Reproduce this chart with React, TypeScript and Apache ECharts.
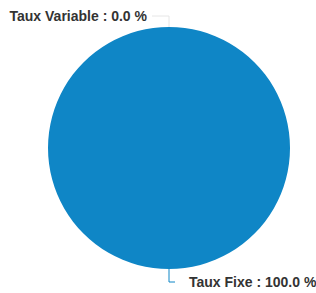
import React, { useEffect, useRef } from "react";
import * as echarts from "echarts";

const categories = ["Taux Fixe", "Taux Variable"];
const values = [100, 0];
const colors = ["#0f86c6", "#e6e6e6"];

export default function App() {
  const ref = useRef<HTMLDivElement>(null);
  useEffect(() => {
    if (!ref.current) return;
    const chart = echarts.init(ref.current, undefined, { renderer: "svg" });
    const total = values.reduce((a, b) => a + b, 0);
    chart.setOption({
      animation: false,
      series: [
        {
          type: "pie",
          center: [169, 148],
          radius: [0, 121],
          startAngle: 90,
          clockwise: false,
          avoidLabelOverlap: false,
          minShowLabelAngle: 0,
          data: categories.map((c, i) => ({
            name: c,
            value: values[i],
            itemStyle: { color: colors[i] },
            label: { distanceToLabelLine: i === 0 ? 14 : 5 },
            labelLine: { length: i === 0 ? 13 : 11, length2: i === 0 ? 6 : 17 },
          })),
          label: {
            show: true,
            color: "#333",
            fontFamily: "Liberation Sans, Arial, sans-serif",
            fontSize: 14,
            fontWeight: "bold",
            formatter: (p: any) =>
              `${p.name} : ${((p.value / total) * 100).toFixed(1)} %`,
          },
          labelLine: { show: true, length: 12, length2: 10 },
        },
      ],
    });
    return () => chart.dispose();
  }, []);
  return (
    <div
      ref={ref}
      style={{ position: "absolute", left: 0, top: 0, width: 316, height: 293 }}
    />
  );
}
